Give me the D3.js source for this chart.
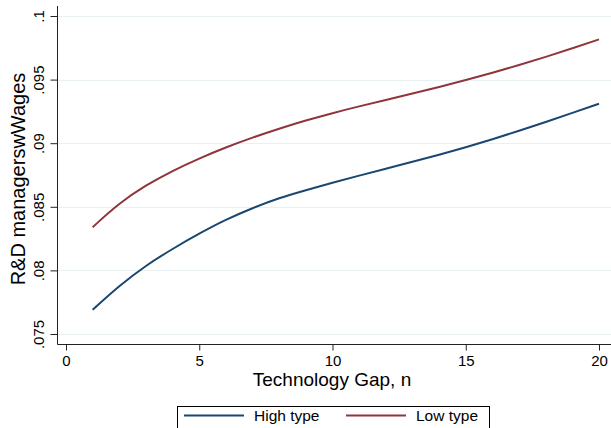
<!DOCTYPE html>
<html>
<head>
<meta charset="utf-8">
<script src="https://cdn.jsdelivr.net/npm/d3@7"></script>
<style>
	body { margin: 0; background: #fff; }
	svg { display: block; font-family: "Liberation Sans", Arial, Helvetica, sans-serif; }
</style>
</head>
<body>
<svg id="chart" width="611" height="428"></svg>
<script>
(function() {
	'use strict';

	// Technology gap n (x values)
	var gap = [1, 2, 3, 4, 5, 6, 7, 8, 9, 10, 11, 12, 13, 14, 15, 16, 17, 18, 19, 20];

	// R&D managers' wages
	var highType = [0.0769, 0.0788, 0.0804, 0.0817, 0.0829, 0.0840, 0.0849, 0.0857, 0.0863, 0.0869,
		0.08745, 0.0880, 0.08853, 0.08909, 0.08968, 0.09031, 0.09097, 0.09167, 0.09238, 0.0931];
	var lowType = [0.0834, 0.0853, 0.0867, 0.08784, 0.08881, 0.08968, 0.09045, 0.09115, 0.09179, 0.09237,
		0.0929, 0.0934, 0.0939, 0.09442, 0.09497, 0.09554, 0.09614, 0.09678, 0.09746, 0.09816];

	var xTicks = [0, 5, 10, 15, 20];
	var yTicks = [0.075, 0.08, 0.085, 0.09, 0.095, 0.1];
	var yTickLabels = ['.075', '.08', '.085', '.09', '.095', '.1'];

	var seriesNames = ['High type', 'Low type'];
	var seriesColors = ['#1a476f', '#90353b'];

	var svg = d3.select('#chart');

	var axisX = 57.5, axisY = 344.5, plotTop = 6, plotRight = 611;

	// Setup scales
	var x = d3.scaleLinear()
		.domain([0, 20])
		.range([66, 599]);

	var y = d3.scaleLinear()
		.domain([0.075, 0.1])
		.range([334, 16]);

	// Gridlines
	svg.append('g')
		.selectAll('line')
		.data(yTicks)
		.enter().append('line')
			.attr('x1', axisX)
			.attr('x2', plotRight)
			.attr('y1', function(d) { return Math.round(y(d)) + 0.5; })
			.attr('y2', function(d) { return Math.round(y(d)) + 0.5; })
			.attr('stroke', '#eaf1f3')
			.attr('stroke-width', 1.2);

	// Lines (basis curve smooths out small reading errors)
	var line = function(vals) {
		return d3.line()
			.curve(d3.curveBasis)
			.x(function(d, i) { return x(gap[i]); })
			.y(function(d) { return y(d); })(vals);
	};

	[highType, lowType].forEach(function(vals, k) {
		svg.append('path')
			.attr('d', line(vals))
			.attr('fill', 'none')
			.attr('stroke', seriesColors[k])
			.attr('stroke-width', 2);
	});

	// Y axis
	var gy = svg.append('g')
		.attr('transform', 'translate(' + axisX + ',0)')
		.call(d3.axisLeft(y)
			.tickValues(yTicks)
			.tickFormat(function(d, i) { return yTickLabels[i]; })
			.tickSize(7)
			.tickSizeOuter(0));

	gy.select('.domain').remove();
	gy.selectAll('line').attr('stroke', '#222');
	gy.selectAll('text')
		.attr('x', null)
		.attr('dy', null)
		.attr('transform', 'translate(-13.5,0) rotate(-90)')
		.attr('text-anchor', 'middle')
		.attr('font-family', null)
		.attr('font-size', 15)
		.attr('fill', '#000');

	gy.append('line')
		.attr('x1', 0).attr('x2', 0)
		.attr('y1', plotTop).attr('y2', axisY)
		.attr('stroke', '#222');

	// X axis
	var gx = svg.append('g')
		.attr('transform', 'translate(0,' + axisY + ')')
		.call(d3.axisBottom(x)
			.tickValues(xTicks)
			.tickSize(6)
			.tickSizeOuter(0));

	gx.select('.domain').remove();
	gx.selectAll('line').attr('stroke', '#222');
	gx.selectAll('text')
		.attr('y', 21.5)
		.attr('dy', null)
		.attr('font-family', null)
		.attr('font-size', 15)
		.attr('fill', '#000');

	gx.append('line')
		.attr('x1', axisX).attr('x2', plotRight)
		.attr('y1', 0).attr('y2', 0)
		.attr('stroke', '#222');

	// Axis titles
	svg.append('text')
		.attr('x', 332)
		.attr('y', 386)
		.attr('text-anchor', 'middle')
		.attr('font-size', 19)
		.text('Technology Gap, n');

	svg.append('text')
		.attr('transform', 'translate(25,179) rotate(-90)')
		.attr('text-anchor', 'middle')
		.attr('font-size', 20)
		.text('R&D managerswWages');

	// Legend
	var legend = svg.append('g');

	legend.append('rect')
		.attr('x', 177.5)
		.attr('y', 406.5)
		.attr('width', 312)
		.attr('height', 40)
		.attr('fill', '#fff')
		.attr('stroke', '#000');

	var legendX = [184, 346];
	seriesNames.forEach(function(name, k) {
		legend.append('line')
			.attr('x1', legendX[k]).attr('x2', legendX[k] + 60)
			.attr('y1', 415.5).attr('y2', 415.5)
			.attr('stroke', seriesColors[k])
			.attr('stroke-width', 2);

		legend.append('text')
			.attr('x', legendX[k] + 70)
			.attr('y', 421)
			.attr('font-size', 15.5)
			.text(name);
	});

})();
</script>
</body>
</html>
